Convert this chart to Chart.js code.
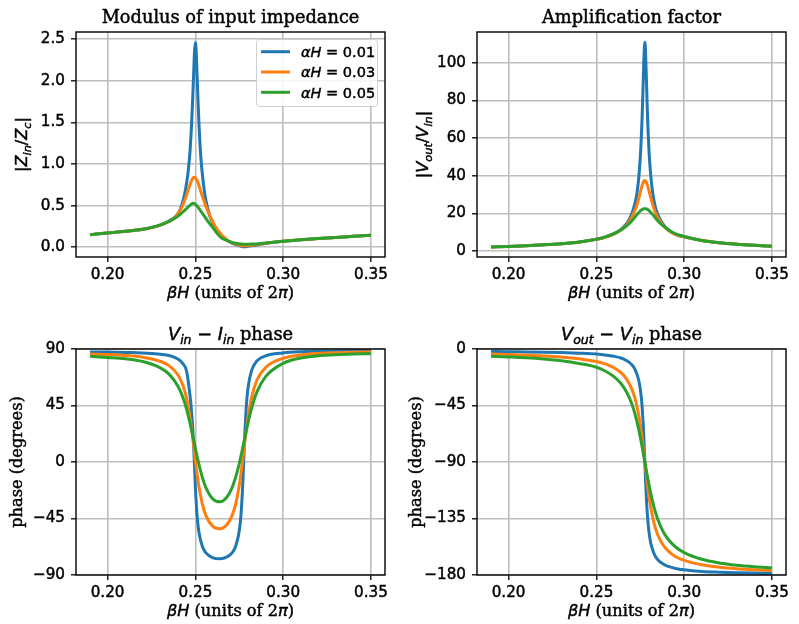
<!DOCTYPE html>
<html>
<head>
<meta charset="utf-8">
<script src="https://cdn.jsdelivr.net/npm/chart.js@4.4.1/dist/chart.umd.min.js"></script>
<style>
body { margin: 0; background: #fff; }
#wrap { position: relative; width: 799px; height: 624px; }
canvas { position: absolute; left: 0; top: 0; }
</style>
</head>
<body>
<div id="wrap">
<canvas id="cImp" width="799" height="624"></canvas>
<canvas id="cAmp" width="799" height="624"></canvas>
<canvas id="cPhIn" width="799" height="624"></canvas>
<canvas id="cPhOut" width="799" height="624"></canvas>
</div>
<script>
// loss values, one curve per value
const alphaH = [0.01, 0.03, 0.05];
const colors = ['#1f77b4', '#ff7f0e', '#2ca02c'];

const xTicks = [0.20, 0.25, 0.30, 0.35];
const impTicks = [0, 0.5, 1.0, 1.5, 2.0, 2.5];
const ampTicks = [0, 20, 40, 60, 80, 100];
const phInTicks = [-90, -45, 0, 45, 90];
const phOutTicks = [-180, -135, -90, -45, 0];

// |Zin/Zc|
const xImp = [0.19,0.20,0.21,0.22,0.225,0.23,0.235,0.238,0.24,0.242,0.244,0.245,0.246,0.247,0.248,0.2485,0.249,0.2495,0.25,0.2505,0.251,0.2515,0.252,0.253,0.254,0.255,0.256,0.258,0.26,0.262,0.265,0.268,0.27,0.273,0.276,0.278,0.28,0.283,0.286,0.29,0.30,0.31,0.32,0.33,0.34,0.35];
const impBlue = [0.150,0.170,0.190,0.215,0.235,0.265,0.315,0.355,0.40,0.49,0.65,0.77,0.93,1.17,1.55,1.80,2.08,2.35,2.46,2.33,2.05,1.76,1.50,1.11,0.87,0.69,0.56,0.39,0.285,0.215,0.14,0.085,0.058,0.03,0.012,0.006,0.01,0.02,0.03,0.045,0.07,0.088,0.103,0.117,0.13,0.143];
const impOrange = [0.150,0.170,0.190,0.215,0.235,0.265,0.31,0.35,0.40,0.47,0.57,0.63,0.695,0.757,0.809,0.827,0.838,0.84,0.834,0.82,0.80,0.775,0.745,0.675,0.61,0.55,0.49,0.39,0.30,0.225,0.145,0.088,0.062,0.036,0.02,0.016,0.018,0.025,0.034,0.046,0.07,0.088,0.103,0.117,0.13,0.143];
const impGreen = [0.150,0.170,0.190,0.215,0.238,0.268,0.31,0.345,0.37,0.405,0.445,0.465,0.485,0.505,0.522,0.527,0.526,0.522,0.515,0.505,0.493,0.48,0.465,0.435,0.405,0.375,0.345,0.285,0.235,0.175,0.11,0.08,0.063,0.047,0.038,0.035,0.035,0.038,0.042,0.05,0.07,0.088,0.103,0.117,0.13,0.143];

// |Vout/Vin|
const xAmp = [0.19,0.20,0.21,0.22,0.23,0.24,0.25,0.255,0.26,0.263,0.266,0.268,0.27,0.272,0.273,0.274,0.275,0.276,0.2765,0.277,0.2776,0.278,0.2785,0.279,0.2795,0.28,0.281,0.282,0.283,0.284,0.286,0.288,0.29,0.293,0.296,0.30,0.31,0.32,0.33,0.34,0.35];
const ampBlue = [2.1,2.4,2.8,3.3,3.9,4.7,6.2,7.3,9.2,10.8,13.3,15.7,19.4,25.5,30.1,37.6,49.5,69.8,84.6,100.6,111,105.9,91.1,75.4,62.5,52.7,39.6,31.4,25.9,22.0,17.3,14.3,12.0,9.9,8.5,7.6,5.6,4.4,3.6,3.0,2.5];
const ampOrange = [2.1,2.4,2.8,3.3,3.9,4.7,6.2,7.3,9.0,10.5,12.7,14.8,17.7,21.8,24.2,27.5,31.2,34.6,36.0,37.0,37.4,37.2,36.5,35.2,33.7,31.9,28.2,24.8,21.9,19.5,16.2,13.6,11.7,9.7,8.4,7.5,5.6,4.4,3.6,3.0,2.5];
const ampGreen = [2.1,2.4,2.8,3.3,3.9,4.8,6.3,7.5,9.2,10.6,12.4,14.0,15.8,18.05,19.2,20.3,21.3,22.0,22.3,22.45,22.5,22.45,22.35,22.15,21.85,21.45,20.5,19.45,18.3,17.1,15.0,13.3,11.9,10.1,8.8,7.7,5.6,4.4,3.6,3.0,2.5];

// Vin - Iin phase (degrees)
const xPhIn = [0.19,0.20,0.21,0.22,0.23,0.235,0.24,0.243,0.245,0.247,0.248,0.249,0.25,0.251,0.252,0.254,0.256,0.26,0.264,0.268,0.271,0.273,0.275,0.276,0.277,0.278,0.279,0.28,0.282,0.285,0.29,0.30,0.31,0.32,0.33,0.34,0.35];
const phInBlue = [87.7,87.6,87.3,86.9,85.8,84.8,82.0,78.2,72.3,52,37,13.8,-20.3,-43.3,-55.8,-67.3,-72.4,-76.3,-77.1,-75.6,-72.2,-66.9,-54.8,-41.5,-17.3,17.2,44.3,59.3,72.8,80.4,84.5,86.9,87.9,88.3,88.5,88.6,88.7];
const phInOrange = [86.0,85.6,84.9,83.5,80.2,76.8,69.5,60.8,50.6,34.8,24.5,13.0,1.2,-9.9,-19.5,-33.6,-42.7,-51.3,-53.2,-49.8,-42.3,-33.2,-18.6,-8.8,2.3,14.2,25.6,35.7,51.3,65.1,75.3,82.6,85.2,86.4,87.0,87.4,87.6];
const phInGreen = [84.2,83.3,82.2,80.0,75.0,70.0,60.5,51.0,42.0,30.6,24.2,17.5,10.8,4.3,-1.8,-12.4,-20.4,-29.6,-31.7,-27.9,-20.1,-11.9,-1.3,4.9,11.5,18.2,25.0,31.4,42.7,55.6,68.0,78.6,82.8,84.6,85.5,86.0,86.3];

// Vout - Vin phase (degrees)
const xPhOut = [0.19,0.20,0.21,0.22,0.23,0.24,0.25,0.255,0.26,0.264,0.267,0.27,0.272,0.274,0.275,0.276,0.277,0.2776,0.278,0.279,0.28,0.281,0.283,0.285,0.288,0.291,0.295,0.30,0.31,0.32,0.33,0.34,0.35];
const phOutBlue = [-2.0,-2.2,-2.3,-2.5,-2.8,-3.3,-4.0,-4.7,-5.8,-7.2,-9.1,-12.3,-16.3,-24.3,-31.8,-45.1,-69.5,-90,-104,-131.2,-146.3,-154.8,-163.5,-167.8,-171.3,-173.2,-174.8,-175.9,-177.2,-177.8,-178.2,-178.5,-178.7];
const phOutOrange = [-4.0,-4.4,-4.9,-5.5,-6.4,-7.7,-10.0,-11.9,-14.9,-18.9,-23.6,-31.3,-39.4,-52.0,-60.5,-70.8,-82.6,-90,-95.0,-106.9,-117.6,-126.5,-139.6,-148.1,-156.1,-161.0,-165.2,-168.4,-171.9,-173.8,-175.0,-175.8,-176.4];
const phOutGreen = [-5.7,-6.3,-7.0,-8.0,-9.4,-11.5,-14.5,-17.5,-22.0,-27.5,-33.8,-43.0,-51.8,-63.2,-70.1,-77.5,-85.2,-90,-93.2,-101,-108.4,-115.3,-126.9,-135.8,-145.3,-151.7,-157.5,-162.2,-167.5,-170.4,-172.2,-173.4,-174.3];

const SERIF = '"DejaVu Serif"';
const SANS = '"DejaVu Sans"';

function fontFor(style, size) {
    if (style === 'm') return 'italic ' + size + 'px ' + SANS;
    if (style === 'u') return size + 'px ' + SANS;
    return size + 'px ' + SERIF;
}

// segs: [text, style, isSubscript]
function drawRich(c, segs, x, y, size, align) {
    let w = 0;
    const parts = segs.map(s => {
        const sz = s[2] ? size * 0.7 : size;
        c.font = fontFor(s[1], sz);
        const m = c.measureText(s[0]).width;
        w += m;
        return { s: s, sz: sz, m: m };
    });
    let cx = align === 'left' ? x : x - w / 2;
    c.textAlign = 'left';
    c.textBaseline = 'alphabetic';
    c.strokeStyle = c.fillStyle;
    c.lineWidth = 0.45;
    parts.forEach(p => {
        c.font = fontFor(p.s[1], p.sz);
        const yy = y + (p.s[2] ? size * 0.22 : 0);
        c.fillText(p.s[0], cx, yy);
        c.strokeText(p.s[0], cx, yy);
        cx += p.m;
    });
}

const xLabel = [['βH', 'm'], [' (units of 2', 's'], ['π', 'm'], [')', 's']];

function drawLegend(chart) {
    const c = chart.ctx;
    c.save();
    c.beginPath();
    c.roundRect(256.5, 39.5, 121, 67, 3);
    c.fillStyle = 'rgba(255,255,255,0.85)';
    c.fill();
    c.strokeStyle = '#d0d0d0';
    c.lineWidth = 1;
    c.stroke();
    alphaH.forEach((a, i) => {
        const y = 51.7 + i * 20.3;
        c.strokeStyle = colors[i];
        c.lineWidth = 3;
        c.beginPath();
        c.moveTo(261, y);
        c.lineTo(290, y);
        c.stroke();
        c.fillStyle = '#000';
        drawRich(c, [['αH', 'm'], [' = ' + a.toFixed(2), 'u']], 301, y + 5.2, 14.5, 'left');
    });
    c.restore();
}

function makeDeco(cfg) {
    return {
        id: 'deco',
        afterDraw(chart) {
            const c = chart.ctx, a = chart.chartArea;
            c.save();
            c.strokeStyle = '#000';
            c.lineWidth = 1.4;
            c.strokeRect(a.left, a.top, a.right - a.left, a.bottom - a.top);
            c.fillStyle = '#000';
            drawRich(c, cfg.title, (a.left + a.right) / 2, a.top - 9, 17.8, 'center');
            drawRich(c, xLabel, (a.left + a.right) / 2, a.bottom + 41, 16.2, 'center');
            c.translate(cfg.ylabX, (a.top + a.bottom) / 2);
            c.rotate(-Math.PI / 2);
            drawRich(c, cfg.ylab, 0, 0, 16.2, 'center');
            c.restore();
            if (cfg.legend) drawLegend(chart);
        }
    };
}

const fmtPhase = v => (v < 0 ? '\u2212' + Math.abs(v) : String(v));

function makeChart(id, area, xs, series, yMin, yMax, yTicks, yFmt, deco) {
    const gridOpts = { color: '#bebebe', lineWidth: 1.6, tickColor: '#000', tickLength: 5, tickWidth: 1.3 };
    const tickFont = { family: 'DejaVu Sans', size: 15.2 };
    const tickOpts = { font: tickFont, color: '#000', textStrokeColor: '#000', textStrokeWidth: 0.45, autoSkip: false, maxRotation: 0 };
    new Chart(document.getElementById(id), {
        type: 'line',
        data: {
            datasets: series.map((ys, i) => ({
                label: 'αH = ' + alphaH[i],
                data: xs.map((x, j) => ({ x: x, y: ys[j] })),
                borderColor: colors[i],
                borderWidth: 3,
                pointRadius: 0,
                fill: false,
                cubicInterpolationMode: 'monotone',
                order: 2 - i
            }))
        },
        options: {
            responsive: false,
            animation: false,
            devicePixelRatio: 1,
            layout: { padding: { left: area[0] - 70, top: area[2], right: 799 - area[1], bottom: 624 - area[3] - 50 } },
            plugins: { legend: { display: false }, tooltip: { enabled: false } },
            scales: {
                x: {
                    type: 'linear', min: 0.182, max: 0.358,
                    afterBuildTicks: s => { s.ticks = xTicks.map(v => ({ value: v })); },
                    afterFit: s => { s.height = 50; s.paddingLeft = 0; s.paddingRight = 0; },
                    grid: gridOpts,
                    border: { display: false },
                    ticks: Object.assign({ padding: 4, callback: v => v.toFixed(2) }, tickOpts)
                },
                y: {
                    type: 'linear', min: yMin, max: yMax,
                    afterBuildTicks: s => { s.ticks = yTicks.map(v => ({ value: v })); },
                    afterFit: s => { s.width = 70; s.paddingTop = 0; s.paddingBottom = 0; },
                    grid: gridOpts,
                    border: { display: false },
                    ticks: Object.assign({ padding: 6, callback: yFmt }, tickOpts)
                }
            }
        },
        plugins: [makeDeco(deco)]
    });
}

makeChart('cImp', [76, 385, 32, 257], xImp, [impBlue, impOrange, impGreen], -0.118, 2.585, impTicks, v => v.toFixed(1), {
    title: [['Modulus of input impedance', 's']],
    ylab: [['|', 'u'], ['Z', 'm'], ['in', 'm', true], ['/', 'u'], ['Z', 'm'], ['c', 'm', true], ['|', 'u']],
    ylabX: 27, legend: true
});
makeChart('cAmp', [477, 786, 32, 257], xAmp, [ampBlue, ampOrange, ampGreen], -3.2, 116.4, ampTicks, v => String(v), {
    title: [['Amplification factor', 's']],
    ylab: [['|', 'u'], ['V', 'm'], ['out', 'm', true], ['/', 'u'], ['V', 'm'], ['in', 'm', true], ['|', 'u']],
    ylabX: 428
});
makeChart('cPhIn', [76, 385, 349, 575], xPhIn, [phInBlue, phInOrange, phInGreen], -90, 90, phInTicks, fmtPhase, {
    title: [['V', 'm'], ['in', 'm', true], [' \u2212 ', 'u'], ['I', 'm'], ['in', 'm', true], [' phase', 's']],
    ylab: [['phase (degrees)', 's']],
    ylabX: 21.5
});
makeChart('cPhOut', [477, 786, 349, 575], xPhOut, [phOutBlue, phOutOrange, phOutGreen], -180, 0, phOutTicks, fmtPhase, {
    title: [['V', 'm'], ['out', 'm', true], [' \u2212 ', 'u'], ['V', 'm'], ['in', 'm', true], [' phase', 's']],
    ylab: [['phase (degrees)', 's']],
    ylabX: 421
});
</script>
</body>
</html>
